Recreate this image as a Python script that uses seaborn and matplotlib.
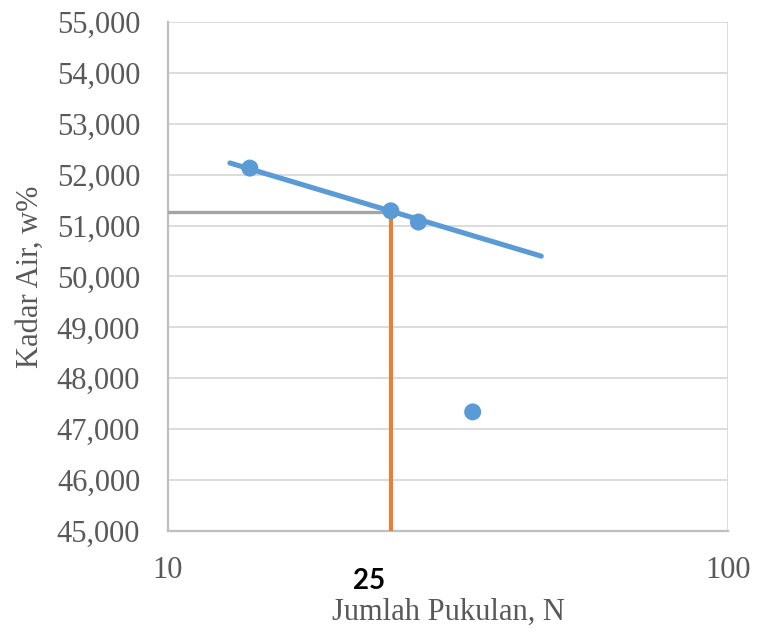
import numpy as np
import pandas as pd
import seaborn as sns
import matplotlib.pyplot as plt
from matplotlib.ticker import FixedLocator, FuncFormatter, NullFormatter

# measured points (Jumlah Pukulan, Kadar Air)
pukulan = [14, 25, 28, 35]
kadar_air = [52.13, 51.29, 51.07, 47.34]

# logarithmic trend line as drawn in the reference (end points)
trend_x = [12.9, 46.4]
trend_y = [52.23, 50.40]

# liquid limit read at N = 25
n_batas = 25
ll = 51.27

sns.set_style("white")
plt.rcParams["font.family"] = ["Liberation Serif", "DejaVu Serif"]

fig = plt.figure(figsize=(7.57, 6.32), dpi=100)
ax = fig.add_axes([168 / 757, 1 - 531 / 632, 560 / 757, 509 / 632])

blue = "#5b9bd5"
orange = "#ed7d31"
gray = "#a5a5a5"

pts = pd.DataFrame({"N": pukulan, "w": kadar_air})
trend = pd.DataFrame({"N": trend_x, "w": trend_y})
hline = pd.DataFrame({"N": [10, n_batas], "w": [ll, ll]})
vline = pd.DataFrame({"N": [n_batas, n_batas], "w": [45, ll]})

sns.lineplot(data=hline, x="N", y="w", color=gray, lw=2.4, ax=ax, zorder=3,
             estimator=None, sort=False)
sns.lineplot(data=vline, x="N", y="w", color=orange, lw=2.9, ax=ax, zorder=3,
             estimator=None, sort=False)
sns.lineplot(data=trend, x="N", y="w", color=blue, lw=3.7, ax=ax, zorder=4,
             estimator=None, sort=False)
sns.scatterplot(data=pts, x="N", y="w", color=blue, s=150, edgecolor="none", ax=ax, zorder=5)

ax.set_xscale("log")
ax.set_xlim(10, 100)
ax.set_ylim(45, 55)

ax.yaxis.set_major_locator(FixedLocator(np.arange(45, 56, 1)))
ax.yaxis.set_major_formatter(FuncFormatter(lambda v, p: f"{v:.3f}".replace(".", ",")))
ax.xaxis.set_major_locator(FixedLocator([10, 100]))
ax.xaxis.set_major_formatter(FuncFormatter(lambda v, p: f"{v:.0f}"))
ax.xaxis.set_minor_locator(FixedLocator(range(20, 100, 10)))
ax.xaxis.set_minor_formatter(NullFormatter())

ax.grid(axis="y", which="major", color="#d9d9d9", lw=1.3, zorder=0)
ax.grid(axis="x", which="major", color="#d9d9d9", lw=1.3, zorder=0)
ax.set_axisbelow(True)

for side in ["top", "right"]:
    ax.spines[side].set_visible(False)
ax.spines["left"].set_color("#bfbfbf")
ax.spines["left"].set_linewidth(1.6)
ax.spines["bottom"].set_color("#bfbfbf")
ax.spines["bottom"].set_linewidth(1.6)

ax.tick_params(axis="y", length=0, pad=20, labelsize=22, labelcolor="#595959")
ax.tick_params(axis="x", which="major", direction="out", length=7, width=1.3,
               color="#bfbfbf", pad=11, labelsize=22, labelcolor="#595959")
ax.tick_params(axis="x", which="minor", direction="inout", length=10, width=1.3,
               color="#bfbfbf")

ax.set_xlabel("Jumlah Pukulan, N", fontsize=22, color="#595959", labelpad=9)
ax.set_ylabel("Kadar Air, w%", fontsize=22, color="#595959", labelpad=9)

ax.annotate("25", xy=(n_batas, 0), xycoords=("data", "axes fraction"),
            xytext=(-16, -36), textcoords="offset points", ha="center", va="center",
            fontsize=20, fontweight="bold", color="black", family=["Lato", "DejaVu Sans"])

fig.savefig("out.png", dpi=100)
